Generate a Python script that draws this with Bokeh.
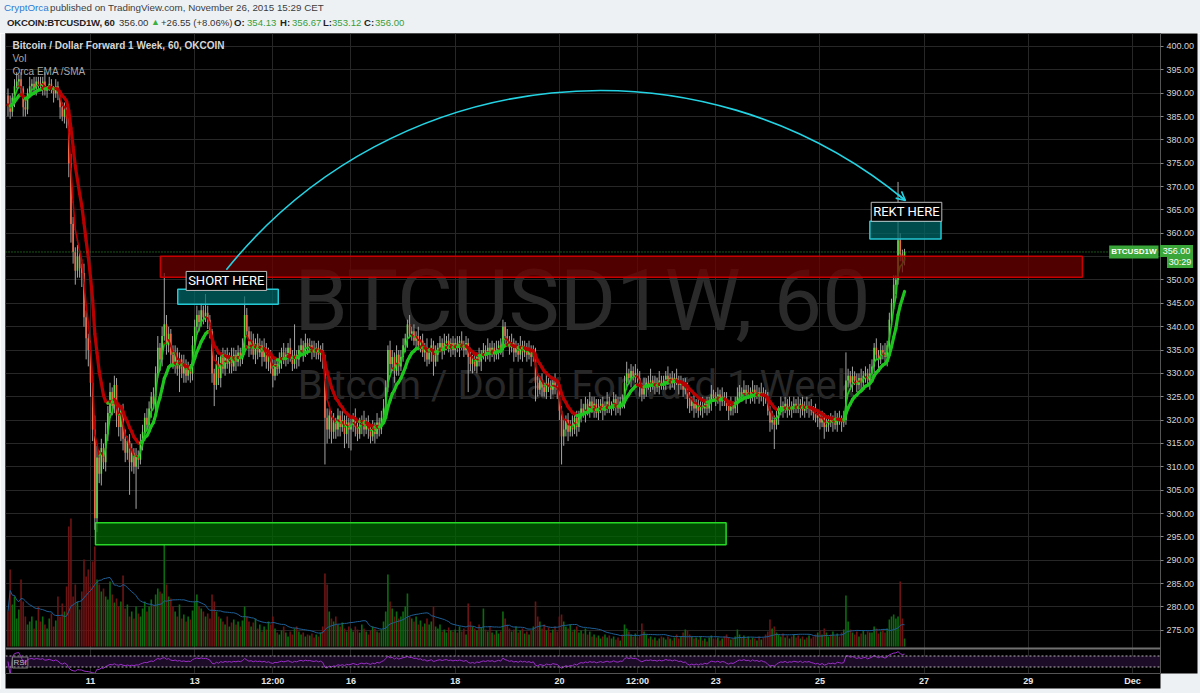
import numpy as np
from bokeh.plotting import figure
from bokeh.layouts import column
from bokeh.models import (Range1d, FixedTicker, NumeralTickFormatter, Span, Label,
                          Arrow, OpenHead, BoxAnnotation, Div)
from bokeh.core.properties import value
from bokeh.embed import file_html
from bokeh.resources import INLINE

# OKCOIN BTCUSD 1-week forward, 60-minute bars (CET).
# x is the hour counted from Nov 9 2015 00:00; first bar Nov 9 10:00, last bar Nov 26 15:00.
FIRST_HOUR = 10
FIRST_OPEN = 389.5

close_nov09 = [387.5, 386.0, 389.0, 391.5, 392.5, 393.0, 391.0, 387.0, 386.5, 390.0, 391.5, 392.0, 391.0, 392.5]
close_nov10 = [392.0, 391.5, 392.5, 390.5, 391.0, 392.0, 391.0, 390.0, 391.5, 390.0, 387.0, 385.0,
               386.5, 384.5, 375.0, 362.0, 356.0, 352.0, 355.0, 352.5, 351.5, 342.0, 337.5, 335.0]
close_nov11 = [328.0, 318.0, 299.0, 312.0, 308.5, 314.0, 311.0, 317.0, 321.5, 326.0, 323.0, 327.5,
               321.0, 318.5, 322.0, 316.0, 313.0, 315.5, 311.0, 313.0, 310.0, 312.5, 311.5, 315.0]
close_nov12 = [317.5, 320.5, 319.0, 322.5, 325.0, 323.5, 330.0, 335.5, 333.0, 338.0, 340.5, 336.0,
               338.5, 334.0, 332.0, 334.5, 331.0, 333.0, 330.0, 332.0, 329.5, 331.0, 330.0, 336.0]
close_nov13 = [340.0, 342.5, 341.0, 343.5, 342.0, 343.0, 341.5, 339.0, 330.0, 327.5, 332.0, 329.0,
               333.5, 331.0, 334.0, 332.0, 333.5, 331.5, 334.0, 332.5, 334.5, 333.0, 335.5, 342.5]
close_nov14 = [339.0, 335.5, 337.0, 334.0, 336.5, 334.5, 336.0, 333.5, 335.5, 332.5, 334.0, 331.0,
               329.5, 332.0, 331.0, 333.0, 334.5, 333.0, 334.0, 335.5, 333.5, 332.0, 334.0, 333.0]
close_nov15 = [335.0, 336.0, 334.5, 336.5, 335.5, 336.0, 335.0, 334.5, 335.5, 334.0, 335.0, 333.0,
               320.5, 318.0, 321.0, 317.5, 319.5, 318.0, 321.0, 318.5, 320.0, 317.0, 319.5, 318.0]
close_nov16 = [319.0, 320.5, 318.5, 317.0, 319.0, 320.0, 318.0, 319.5, 318.0, 316.5, 318.5, 317.0,
               319.5, 318.0, 320.5, 322.5, 327.0, 335.0, 332.0, 333.5, 330.5, 334.0, 331.5, 333.5]
close_nov17 = [336.0, 337.5, 340.5, 338.5, 339.0, 337.0, 338.0, 336.0, 337.0, 334.5, 335.5, 333.0,
               334.5, 336.0, 332.5, 334.0, 335.5, 336.5, 335.0, 336.5, 337.0, 335.5, 336.5, 335.0]
close_nov18 = [336.5, 335.5, 337.0, 336.0, 335.0, 336.5, 333.5, 332.0, 333.0, 331.5, 333.5, 332.5,
               334.0, 335.0, 334.0, 335.5, 334.5, 335.5, 334.0, 335.0, 336.0, 335.0, 340.0, 338.0]
close_nov19 = [337.0, 335.5, 336.5, 334.5, 335.5, 334.0, 336.0, 334.5, 335.5, 334.0, 335.0, 333.5,
               334.5, 328.0, 326.5, 328.5, 327.0, 326.0, 328.0, 327.0, 326.5, 328.0, 327.0, 326.5]
close_nov20 = [322.0, 316.5, 318.0, 320.0, 317.5, 319.0, 318.0, 320.5, 318.5, 321.0, 322.5, 321.5,
               323.5, 322.0, 324.0, 322.5, 323.5, 321.5, 322.5, 323.5, 322.0, 323.0, 324.0, 322.5]
close_nov21 = [323.0, 324.5, 323.0, 322.5, 324.0, 323.5, 328.0, 330.0, 329.0, 330.5, 329.5, 330.0,
               329.0, 327.0, 325.5, 327.0, 328.0, 327.5, 328.5, 327.5, 328.0, 327.0, 328.5, 327.5]
close_nov22 = [328.0, 329.5, 328.5, 329.0, 328.0, 329.0, 328.5, 327.5, 328.0, 326.5, 327.0, 324.5,
               323.0, 324.0, 322.5, 323.5, 322.0, 323.0, 322.5, 323.5, 322.5, 324.0, 325.5, 325.0]
close_nov23 = [324.5, 325.5, 324.0, 325.0, 324.5, 323.0, 322.0, 323.0, 322.5, 323.5, 325.0, 326.0,
               325.5, 326.5, 325.5, 326.0, 325.0, 326.5, 325.5, 326.0, 325.0, 326.0, 325.0, 324.5]
close_nov24 = [322.0, 319.5, 320.0, 319.0, 320.5, 322.0, 323.0, 322.5, 323.5, 322.0, 323.0, 322.5,
               323.5, 323.0, 322.5, 323.5, 322.0, 323.0, 322.5, 323.0, 322.0, 321.5, 320.5, 321.0]
close_nov25 = [319.5, 320.5, 318.5, 319.0, 320.0, 319.5, 320.0, 319.0, 320.5, 320.0, 319.5, 320.0,
               328.5, 329.5, 328.0, 329.45, 328.5, 327.5, 329.0, 328.0, 329.5, 330.0, 328.5, 330.0]
close_nov26 = [331.5, 335.5, 334.0, 333.0, 335.0, 334.5, 333.5, 336.0, 341.5, 345.0, 349.0, 350.0,
               358.5, 355.5, 354.13, 356.0]

# upper wick above the body, per bar
wick_up = [
    1.5, 2.0, 1.0, 1.5, 2.0, 1.0, 1.5, 0.5, 1.5, 1.0, 2.0, 1.0, 1.5, 1.0,
    1.0, 1.5, 1.0, 2.0, 0.5, 1.5, 1.0, 0.5, 1.5, 1.0, 0.5, 1.0, 1.5, 0.5, 1.0, 2.0, 1.5, 1.0, 2.5, 1.5, 1.0, 2.0, 1.5, 1.0,
    2.0, 1.5, 3.0, 2.5, 1.5, 2.0, 1.0, 2.5, 1.5, 2.0, 1.0, 2.0, 1.5, 2.5, 1.0, 1.5, 2.0, 1.0, 1.5, 2.0, 1.0, 1.5, 1.0, 2.0,
    1.5, 1.0, 2.0, 1.5, 1.0, 2.0, 1.5, 2.5, 1.0, 2.0, 11.0, 2.0, 1.5, 1.0, 2.0, 1.5, 1.0, 1.5, 1.0, 2.0, 1.0, 1.5, 1.0, 2.0,
    1.5, 2.0, 1.0, 1.5, 1.0, 4.0, 1.5, 1.0, 0.5, 1.0, 2.0, 1.5, 1.0, 2.0, 1.0, 1.5, 1.0, 2.0, 1.5, 1.0, 1.5, 1.0, 2.0, 4.0,
    1.5, 1.0, 2.0, 1.5, 1.0, 2.0, 1.5, 1.0, 2.0, 1.0, 1.5, 1.0, 2.0, 1.5, 1.0, 1.5, 1.0, 2.0, 1.5, 1.0, 2.0, 1.5, 6.5, 1.0,
    1.0, 1.5, 1.0, 2.0, 1.0, 1.5, 1.0, 2.0, 1.0, 1.5, 1.0, 1.5, 1.0, 2.0, 1.5, 1.0, 2.0, 1.0, 1.5, 1.0, 2.0, 1.0, 1.5, 1.0,
    1.5, 1.0, 2.0, 1.0, 1.5, 1.0, 2.0, 1.0, 1.5, 1.0, 1.5, 1.0, 2.0, 1.0, 1.5, 2.0, 1.5, 1.0, 2.0, 1.5, 1.0, 2.0, 1.0, 1.5,
    1.5, 1.0, 1.0, 2.0, 1.0, 1.5, 1.0, 2.0, 1.0, 1.5, 1.0, 2.0, 1.0, 1.5, 1.0, 2.0, 1.0, 1.5, 1.0, 2.0, 1.0, 1.5, 1.0, 1.5,
    1.0, 1.5, 1.0, 2.0, 1.0, 1.5, 1.0, 2.0, 1.0, 1.5, 1.0, 2.0, 1.0, 1.5, 1.0, 2.0, 1.0, 1.5, 1.0, 2.0, 1.0, 1.5, 1.5, 1.0,
    1.5, 1.0, 2.0, 1.0, 1.5, 1.0, 2.0, 1.0, 1.5, 1.0, 2.0, 1.0, 1.5, 1.0, 2.0, 1.0, 1.5, 1.0, 2.0, 1.0, 1.5, 1.0, 2.0, 1.0,
    1.5, 1.0, 2.0, 1.0, 1.5, 1.0, 2.0, 1.0, 1.5, 1.0, 2.0, 1.0, 1.5, 1.0, 2.0, 1.0, 1.5, 1.0, 2.0, 1.0, 1.5, 1.0, 2.0, 1.0,
    1.0, 1.5, 1.0, 2.0, 1.0, 1.5, 1.5, 2.5, 1.0, 1.5, 1.0, 2.0, 1.0, 1.5, 1.0, 2.0, 1.0, 1.5, 2.5, 1.0, 1.5, 1.0, 2.0, 1.0,
    1.5, 1.0, 2.0, 1.0, 1.5, 1.0, 2.0, 1.0, 1.5, 1.0, 2.0, 1.0, 1.5, 1.0, 2.0, 1.0, 1.5, 1.0, 2.0, 1.0, 1.5, 1.0, 2.0, 1.0,
    1.0, 1.5, 1.0, 2.0, 1.0, 1.5, 1.0, 2.0, 1.0, 1.5, 2.0, 1.5, 1.0, 2.0, 1.0, 1.5, 1.0, 2.0, 1.0, 1.5, 1.0, 2.0, 1.0, 1.5,
    1.5, 1.0, 2.0, 1.0, 1.5, 1.0, 2.0, 1.0, 1.5, 1.0, 2.0, 1.0, 1.5, 1.0, 2.0, 1.0, 1.5, 1.0, 2.0, 1.0, 1.5, 1.0, 2.0, 1.0,
    1.0, 1.5, 1.0, 2.0, 1.0, 1.5, 1.0, 2.0, 1.0, 1.5, 1.0, 2.0, 6.0, 1.5, 1.0, 2.0, 1.0, 1.5, 1.0, 2.0, 1.0, 1.5, 1.0, 2.0,
    1.5, 1.0, 2.0, 1.0, 1.5, 1.0, 2.0, 1.0, 1.5, 1.0, 2.0, 1.0, 12.5, 1.5, 1.0, 0.67,
]
# lower wick below the body, per bar
wick_down = [
    2.5, 1.5, 1.0, 2.0, 0.5, 1.5, 1.0, 2.0, 1.5, 1.0, 0.5, 2.0, 1.0, 1.5,
    1.5, 1.0, 2.0, 1.0, 1.5, 0.5, 1.0, 2.0, 1.0, 1.5, 2.5, 1.0, 1.5, 2.0, 3.0, 4.0, 2.5, 3.0, 1.5, 2.0, 3.0, 2.0, 4.5, 3.5,
    3.0, 2.5, 2.5, 3.0, 2.0, 2.5, 1.5, 2.0, 1.5, 1.0, 2.0, 1.5, 2.5, 2.0, 3.0, 2.5, 2.0, 1.5, 7.0, 2.0, 1.5, 9.0, 2.0, 1.0,
    1.5, 2.0, 1.0, 1.5, 2.0, 1.0, 1.5, 1.0, 2.5, 1.5, 1.0, 2.0, 1.5, 2.5, 1.0, 2.0, 1.5, 5.0, 1.0, 2.0, 1.5, 1.0, 2.0, 1.5,
    1.0, 1.5, 2.0, 1.0, 1.5, 1.0, 2.0, 1.5, 2.0, 4.5, 1.0, 1.5, 2.0, 1.0, 1.5, 1.0, 2.0, 1.5, 1.0, 2.0, 1.0, 1.5, 1.0, 1.5,
    1.0, 2.0, 1.5, 1.0, 2.0, 1.5, 1.0, 2.0, 1.0, 1.5, 2.0, 1.0, 2.5, 1.0, 1.5, 1.0, 2.0, 1.0, 1.5, 2.0, 1.0, 1.5, 1.0, 2.0,
    1.5, 1.0, 2.0, 1.0, 1.5, 1.0, 2.0, 1.0, 1.5, 1.0, 1.5, 2.0, 10.0, 3.0, 2.0, 2.5, 1.5, 2.0, 1.5, 2.0, 1.0, 3.0, 2.0, 4.0,
    4.5, 1.5, 2.0, 1.5, 1.0, 2.0, 1.5, 1.0, 2.0, 1.5, 1.0, 2.0, 1.0, 1.5, 1.0, 1.0, 1.5, 1.0, 2.0, 1.5, 2.5, 1.0, 2.0, 1.0,
    1.0, 1.5, 2.0, 1.0, 1.5, 1.0, 2.0, 1.0, 1.5, 1.0, 2.0, 1.5, 1.0, 2.0, 3.0, 1.0, 1.5, 1.0, 2.0, 1.0, 1.5, 1.0, 2.0, 1.0,
    1.5, 1.0, 2.0, 1.0, 1.5, 1.0, 7.5, 1.5, 2.0, 1.0, 1.5, 1.0, 2.0, 1.0, 1.5, 1.0, 2.0, 1.0, 1.5, 1.0, 2.0, 1.0, 1.5, 2.0,
    1.0, 1.5, 1.0, 2.0, 1.0, 1.5, 1.0, 2.0, 1.0, 1.5, 1.0, 2.0, 1.0, 4.0, 1.5, 1.0, 2.0, 1.0, 1.5, 1.0, 2.0, 1.0, 1.5, 2.0,
    2.0, 6.0, 2.0, 1.5, 2.0, 1.0, 1.5, 1.0, 2.0, 1.0, 1.5, 1.0, 2.0, 1.0, 1.5, 1.0, 2.0, 1.0, 1.5, 1.0, 2.0, 1.0, 1.5, 1.0,
    1.5, 1.0, 2.0, 1.0, 1.5, 1.0, 1.0, 1.5, 1.0, 2.0, 1.0, 1.5, 1.0, 2.0, 1.5, 1.0, 2.0, 1.0, 1.5, 1.0, 2.0, 1.0, 1.5, 1.0,
    1.0, 1.5, 1.0, 2.0, 1.0, 1.5, 1.0, 2.0, 1.0, 1.5, 1.0, 2.0, 1.5, 1.0, 2.0, 1.0, 1.5, 1.0, 2.0, 1.0, 1.5, 1.0, 2.0, 1.0,
    1.5, 1.0, 2.0, 1.0, 1.5, 1.0, 2.0, 1.0, 1.5, 1.0, 2.0, 1.0, 1.5, 1.0, 2.0, 1.0, 1.5, 1.0, 2.0, 1.0, 1.5, 1.0, 2.0, 1.0,
    1.0, 2.0, 1.5, 5.2, 1.0, 1.5, 1.0, 2.0, 1.0, 1.5, 1.0, 2.0, 1.0, 1.5, 1.0, 2.0, 1.0, 1.5, 1.0, 2.0, 1.0, 1.5, 1.0, 2.0,
    1.5, 1.0, 2.5, 1.0, 1.5, 1.0, 2.0, 1.0, 1.5, 1.0, 2.0, 1.0, 1.0, 1.5, 1.0, 2.0, 1.0, 1.5, 1.0, 2.0, 1.0, 1.5, 1.0, 2.0,
    1.0, 1.5, 1.0, 2.0, 1.0, 1.5, 1.0, 2.0, 1.0, 1.5, 1.0, 2.0, 1.0, 1.5, 2.5, 1.01,
]
# hourly volume (contracts, x1000)
volume = [
    35, 77, 42, 50, 28, 37, 67, 45, 30, 22, 25, 30, 18, 26,
    40, 25, 30, 22, 18, 28, 33, 20, 26, 50, 30, 43, 35, 60, 120, 128, 50, 62, 45, 37, 55, 87, 70, 77,
    60, 85, 100, 67, 62, 55, 58, 50, 47, 65, 52, 44, 48, 40, 45, 71, 38, 42, 30, 35, 28, 40, 33, 30,
    38, 45, 35, 40, 47, 42, 52, 58, 55, 53, 102, 62, 50, 48, 40, 35, 30, 42, 28, 32, 25, 30, 27, 36,
    45, 52, 40, 38, 35, 30, 33, 28, 52, 45, 35, 30, 28, 25, 22, 30, 20, 24, 27, 22, 25, 20, 26, 40,
    30, 25, 20, 24, 28, 18, 22, 15, 20, 17, 25, 22, 30, 18, 14, 12, 16, 20, 14, 10, 15, 12, 18, 20,
    15, 12, 14, 10, 12, 11, 13, 9, 12, 10, 14, 20, 73, 62, 35, 28, 25, 30, 22, 20, 24, 18, 15, 20,
    18, 15, 20, 17, 14, 22, 18, 15, 12, 16, 20, 18, 15, 14, 17, 25, 35, 72, 45, 38, 30, 35, 28, 30,
    35, 40, 53, 30, 28, 25, 30, 22, 26, 20, 23, 28, 22, 25, 40, 20, 18, 22, 15, 17, 14, 19, 16, 15,
    17, 14, 20, 15, 18, 12, 43, 25, 20, 18, 16, 22, 19, 38, 17, 15, 20, 14, 12, 16, 13, 15, 35, 28,
    22, 18, 15, 17, 20, 14, 16, 18, 13, 15, 12, 16, 20, 45, 30, 25, 18, 22, 16, 19, 14, 17, 20, 15,
    30, 32, 25, 20, 18, 22, 15, 17, 20, 14, 16, 13, 18, 12, 15, 10, 12, 9, 11, 8, 10, 12, 9, 11,
    8, 10, 7, 9, 6, 12, 22, 18, 15, 12, 10, 13, 9, 11, 23, 15, 12, 8, 10, 7, 9, 6, 8, 10,
    9, 7, 10, 8, 6, 9, 12, 8, 10, 14, 17, 16, 12, 10, 8, 9, 7, 10, 6, 8, 5, 9, 11, 8,
    7, 9, 6, 8, 10, 12, 9, 7, 8, 10, 17, 12, 9, 11, 8, 10, 7, 9, 8, 6, 10, 7, 9, 12,
    15, 27, 18, 20, 14, 12, 10, 13, 9, 11, 8, 10, 12, 9, 11, 8, 10, 7, 9, 11, 8, 10, 12, 14,
    16, 12, 18, 14, 10, 12, 15, 11, 13, 10, 14, 17, 51, 25, 17, 14, 12, 15, 10, 13, 16, 12, 15, 14,
    14, 20, 18, 13, 15, 17, 14, 18, 27, 30, 32, 28, 30, 65, 28, 8,
]

# axis ticks
price_ticks = [275, 280, 285, 290, 295, 300, 305, 310, 315, 320, 325, 330, 335, 340, 345,
               350, 355, 360, 365, 370, 375, 380, 385, 390, 395, 400]
date_tick_hours = [48, 96, 132, 168, 216, 264, 300, 336, 384, 432, 480, 528]
date_tick_labels = ["11", "13", "12:00", "16", "18", "20", "12:00", "23", "25", "27", "29", "Dec"]

# drawings on the chart (hour, price)
RESIST_BOX = (80.2, 504.9, 350.6, 355.1)
SUPPORT_BOX = (50.3, 340.8, 293.3, 298.0)
SHORT_BOX = (88.2, 134.5, 344.8, 348.0)
REKT_BOX = (407.0, 439.8, 358.8, 362.6)
SHORT_TEXT_AT = (110.6, 349.8)
REKT_TEXT_AT = (423.9, 364.6)
ARC = dict(x0=110.6, y0=352.2, cx0=187.8, cy0=396.9, cx1=328.5, cy1=403.5, x1=423.4, y1=367.0)
ARROW_FROM = (419.9, 368.4)
WATERMARK_AT = (274.6, 345.6)
SUBTITLE_AT = (272.3, 327.4)
COUNTDOWN = "30:29"

# ---------------------------------------------------------------- derived series
closes = (close_nov09 + close_nov10 + close_nov11 + close_nov12 + close_nov13 + close_nov14 +
          close_nov15 + close_nov16 + close_nov17 + close_nov18 + close_nov19 + close_nov20 +
          close_nov21 + close_nov22 + close_nov23 + close_nov24 + close_nov25 + close_nov26)
n = len(closes)
hours = np.arange(FIRST_HOUR, FIRST_HOUR + n)
opens = [FIRST_OPEN] + closes[:-1]
highs = [max(o, c) + w for o, c, w in zip(opens, closes, wick_up)]
lows = [min(o, c) - w for o, c, w in zip(opens, closes, wick_down)]
is_up = [c >= o for o, c in zip(opens, closes)]

UP, DOWN = "#5fdc48", "#f26a4c"
body_col = [UP if u else DOWN for u in is_up]
vol_col = [("#0c6a10" if u else "#6c1414") for u in is_up]


def ema(vals, period):
    k = 2.0 / (period + 1)
    out = [vals[0]]
    for v in vals[1:]:
        out.append(out[-1] + k * (v - out[-1]))
    return out


def sma(vals, period):
    return [float(np.mean(vals[max(0, i - period + 1):i + 1])) for i in range(len(vals))]


def rsi(vals, period=14):
    diffs = np.diff(vals)
    out = [50.0]
    ag = al = 0.0
    for i, d in enumerate(diffs):
        g, l = max(d, 0.0), max(-d, 0.0)
        if i < period:
            ag = (ag * i + g) / (i + 1)
            al = (al * i + l) / (i + 1)
        else:
            ag = (ag * (period - 1) + g) / period
            al = (al * (period - 1) + l) / period
        out.append(100.0 if al == 0 else 100.0 - 100.0 / (1.0 + ag / al))
    return out


ema_fast = ema(closes, 4)
ema_slow = ema(closes, 12)
vol_ma = sma(volume, 20)
rsi_vals = rsi(closes, 14)

last = closes[-1]
o_last, h_last, l_last = opens[-1], highs[-1], lows[-1]
prev_day = closes[-25]
chg = last - prev_day
pct = chg / prev_day * 100

# price -> page pixel for the price-scale tags (same mapping as the price range below)
Y_RANGE = (265.74, 402.78)
FRAME_TOP, FRAME_BOTTOM = 33, 673


def price_to_px(v):
    return FRAME_TOP + (Y_RANGE[1] - v) / (Y_RANGE[1] - Y_RANGE[0]) * (FRAME_BOTTOM - FRAME_TOP)


# ---------------------------------------------------------------- publication header
GREEN_TXT = "#3a9d3a"


def span(left, top, text, color, size="9.6px", weight="normal", extra=""):
    return (f'<span style="position:absolute;left:{left}px;top:{top}px;white-space:nowrap;'
            f'color:{color};font-size:{size};font-weight:{weight};line-height:13px;{extra}">{text}</span>')


last_px = price_to_px(last)
header_parts = [
    span(4, 1, "CryptOrca", "#2b7cd3", "9.8px"),
    span(50, 1, "published on TradingView.com, November 26, 2015 15:29 CET", "#3c3c3c", "9.8px"),
    span(7, 16, "OKCOIN:BTCUSD1W, 60", "#1e1e1e", "9.6px", "bold", "letter-spacing:-0.2px;"),
    span(119, 16, f"{last:.2f}", "#333333"),
    span(151, 16, "\u25b2", "#3cb043", "9px"),
    span(161, 16, f"+{chg:.2f} (+{pct:.2f}%)", "#333333"),
    span(234, 16, "O:", "#1e1e1e", "9.6px", "bold"),
    span(247, 16, f"{o_last:.2f}", GREEN_TXT),
    span(280, 16, "H:", "#1e1e1e", "9.6px", "bold"),
    span(292, 16, f"{h_last:.2f}", GREEN_TXT),
    span(323, 16, "L:", "#1e1e1e", "9.6px", "bold"),
    span(332, 16, f"{l_last:.2f}", GREEN_TXT),
    span(364, 16, "C:", "#1e1e1e", "9.6px", "bold"),
    span(375, 16, f"{last:.2f}", GREEN_TXT),
    # price-scale tags for the last price and the bar countdown
    span(1160, round(last_px - 6), f"{last:.2f}", "white", "9px", "normal",
         "background:#3aa63a;width:33px;height:12px;line-height:12px;text-align:center;"),
    span(1167, round(last_px + 6), COUNTDOWN, "white", "9px", "normal",
         "background:#3aa63a;width:26px;height:11px;line-height:11px;text-align:center;"),
]
header = Div(text=('<div style="position:relative;width:1200px;height:33px;'
                   'font-family:\'Liberation Sans\',Arial,sans-serif;background:#eef1f4;">'
                   + "".join(header_parts) + "</div>"),
             width=1200, height=33, margin=(0, 0, 0, 0),
             styles={"background-color": "#eef1f4", "overflow": "visible",
                     "position": "relative", "z-index": "10"})
footer = Div(text="", width=1200, height=4, margin=(0, 0, 0, 0),
             styles={"background-color": "#eef1f4"})

# ---------------------------------------------------------------- figure
p = figure(width=1200, height=656, output_backend="svg", toolbar_location=None,
           x_range=Range1d(8.85, 540.9), y_range=Range1d(*Y_RANGE),
           y_axis_location="right", min_border_left=5, min_border_right=40,
           min_border_top=0, min_border_bottom=16,
           background_fill_color="black", border_fill_color="#eef1f4")
p.extra_y_ranges = {"vol": Range1d(-27, 613), "rsi": Range1d(6.4, 2333.6)}
p.outline_line_color = "#4a4a4a"

p.xgrid.ticker = FixedTicker(ticks=date_tick_hours)
p.ygrid.ticker = FixedTicker(ticks=price_ticks)
p.xgrid.grid_line_color = "#272727"
p.ygrid.grid_line_color = "#272727"

xa = p.xaxis[0]
xa.ticker = FixedTicker(ticks=date_tick_hours)
xa.major_label_overrides = {h: lab for h, lab in zip(date_tick_hours, date_tick_labels)}
xa.major_tick_line_color = None
xa.major_tick_out = 0
xa.major_tick_in = 0
xa.minor_tick_line_color = None
xa.axis_line_color = "#555555"
xa.major_label_text_color = "#e6e6e6"
xa.major_label_text_font = "Liberation Sans"
xa.major_label_text_font_size = "9px"
xa.major_label_text_font_style = "bold"
xa.major_label_standoff = 2

ya = p.yaxis[0]
ya.ticker = FixedTicker(ticks=price_ticks)
ya.formatter = NumeralTickFormatter(format="0.00")
ya.major_label_overrides = {355: ""}
ya.major_tick_out = 3
ya.major_tick_in = 0
ya.major_tick_line_color = "#888888"
ya.minor_tick_line_color = None
ya.axis_line_color = "#555555"
ya.major_label_text_color = "#d4d4d4"
ya.major_label_text_font = "Liberation Sans"
ya.major_label_text_font_size = "9px"
ya.major_label_standoff = 3

for ax in (xa, ya):
    if "background_fill_color" in ax.properties():
        ax.background_fill_color = "black"

# RSI pane band
p.add_layout(BoxAnnotation(bottom=30, top=70, y_range_name="rsi", fill_color="#1d0c27",
                           fill_alpha=1.0, line_color=None, level="underlay"))

# symbol watermark
p.text(x=[WATERMARK_AT[0]], y=[WATERMARK_AT[1]], text=["BTCUSD1W, 60"],
       text_font=value("Roboto"), text_font_size="86px", text_color="#2a2a2a",
       text_align="center", text_baseline="middle")
p.text(x=[SUBTITLE_AT[0]], y=[SUBTITLE_AT[1]], text=["Bitcoin / Dollar Forward 1 Week"],
       text_font=value("Roboto"), text_font_size="40px", text_color="#282828",
       text_align="center", text_baseline="middle")

# volume overlay
p.vbar(x=hours, top=volume, bottom=0, width=0.75, y_range_name="vol",
       fill_color=vol_col, line_color=None)
p.line(hours, vol_ma, y_range_name="vol", line_color="#1f5f96", line_width=1)

# candles
p.segment(x0=hours, y0=lows, x1=hours, y1=highs, line_color="#a5a5a5", line_width=1)
p.vbar(x=hours, top=[max(o, c) for o, c in zip(opens, closes)],
       bottom=[min(o, c) for o, c in zip(opens, closes)],
       width=0.72, fill_color=body_col, line_color=None)

# Orca EMA / SMA: green while rising, red while falling
for series, lw in ((ema_fast, 1.6), (ema_slow, 3.2)):
    cols = ["#1fc41f" if series[i] >= series[i - 1] else "#b80000" for i in range(1, n)]
    p.segment(x0=hours[:-1], y0=series[:-1], x1=hours[1:], y1=series[1:],
              line_color=cols, line_width=lw, line_cap="round")


# boxes
def box(bounds, fill, edge):
    l, r, b, t = bounds
    p.quad(left=[l], right=[r], bottom=[b], top=[t], fill_color=fill, fill_alpha=0.72,
           line_color=edge, line_width=1.5)


box(RESIST_BOX, "#700000", "#c80000")
box(SUPPORT_BOX, "#006a00", "#27d827")
box(SHORT_BOX, "#006868", "#22c8d4")
box(REKT_BOX, "#006868", "#22c8d4")

for (tx, ty), txt in ((SHORT_TEXT_AT, "SHORT HERE"), (REKT_TEXT_AT, "REKT HERE")):
    p.add_layout(Label(x=tx, y=ty, text=txt, text_color="white", text_font="Roboto",
                       text_font_size="13px", text_align="center", text_baseline="middle",
                       background_fill_color="black", border_line_color="#bdbdbd",
                       border_line_width=1, padding=2))

# arc from the short to the target
p.bezier(x0=[ARC["x0"]], y0=[ARC["y0"]], x1=[ARC["x1"]], y1=[ARC["y1"]],
         cx0=[ARC["cx0"]], cy0=[ARC["cy0"]], cx1=[ARC["cx1"]], cy1=[ARC["cy1"]],
         line_color="#24d3e3", line_width=1.6)
p.add_layout(Arrow(end=OpenHead(size=9, line_color="#24d3e3", line_width=1.6),
                   x_start=ARROW_FROM[0], y_start=ARROW_FROM[1], x_end=ARC["x1"], y_end=ARC["y1"],
                   line_color="#24d3e3", line_width=1.6))

# last price line
p.add_layout(Span(location=last, dimension="width", line_color="#2fa82f",
                  line_dash="1 2", line_width=1))

# RSI pane
p.add_layout(Span(location=70, dimension="width", y_range_name="rsi",
                  line_color="#b5b5b5", line_dash="2 2", line_width=1))
p.add_layout(Span(location=30, dimension="width", y_range_name="rsi",
                  line_color="#b5b5b5", line_dash="2 2", line_width=1))
p.add_layout(Span(location=97.3, dimension="width", y_range_name="rsi",
                  line_color="#707070", line_width=2))
p.line(hours, rsi_vals, y_range_name="rsi", line_color="#9b2fc9", line_width=1)


# ---------------------------------------------------------------- texts in the pane
def screen_label(x, y, text, color, size="10px", style="normal", font="Liberation Sans", **kw):
    p.add_layout(Label(x=x, y=y, x_units="screen", y_units="screen", text=text,
                       text_color=color, text_font=font, text_font_size=size,
                       text_font_style=style, text_baseline="middle", **kw))


screen_label(7, 628, "Bitcoin / Dollar Forward 1 Week, 60, OKCOIN", "#d6d6d6", "10px", "bold")
screen_label(7, 615, "Vol", "#a8a8a8", "10px")
screen_label(7, 602, "Orca EMA /SMA", "#a8a8a8", "10px")
screen_label(7, 11, "RSI", "#bbbbbb", "8px", border_line_color="#777777", padding=1)

# symbol tag on the last-price line
p.add_layout(Label(x=1153, x_units="screen", y=last, text="BTCUSD1W", text_color="white",
                   text_font="Liberation Sans", text_font_size="8px", text_font_style="bold",
                   text_align="right", text_baseline="middle",
                   background_fill_color="#3aa63a", padding=2))

layout = column(header, p, footer, spacing=0)
open("out.html", "w").write(file_html(layout, INLINE))
